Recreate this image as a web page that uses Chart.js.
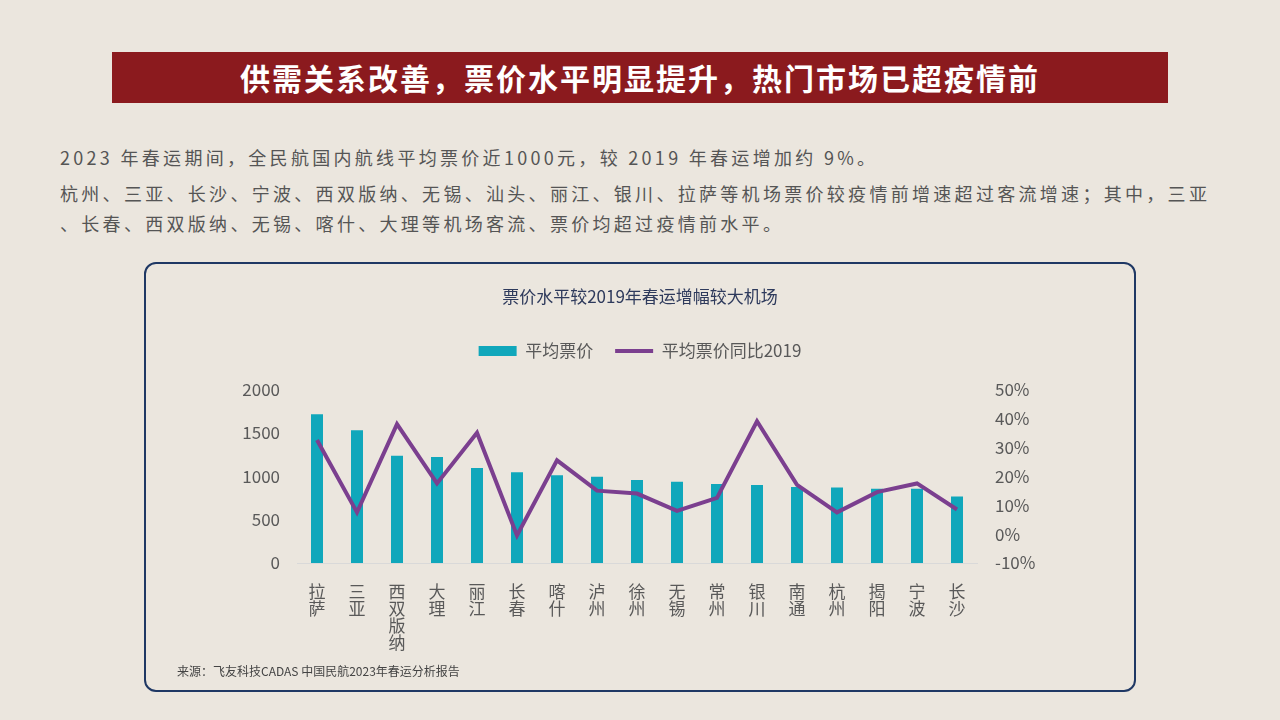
<!DOCTYPE html>
<html>
<head>
<meta charset="utf-8">
<script src="https://cdn.jsdelivr.net/npm/chart.js@4.4.0/dist/chart.umd.min.js"></script>
<style>
  body { margin: 0; width: 1280px; height: 720px; background: #ebe6de; font-family: "Noto Sans CJK SC", sans-serif; position: relative; overflow: hidden; }
  .banner { position: absolute; left: 112px; top: 52px; width: 1056px; height: 51px; background: #8b1a1e; color: #fff; font-size: 30px; font-weight: bold; text-align: center; line-height: 51px; letter-spacing: 2px; }
  .txt { position: absolute; left: 60px; color: #555; font-size: 18px; letter-spacing: 3.3px; white-space: nowrap; line-height: 30px; }
  .box { position: absolute; left: 144px; top: 262px; width: 988px; height: 426px; border: 2px solid #1f3864; border-radius: 12px; }
  .wrap { position: absolute; left: 144px; top: 262px; width: 992px; height: 401px; }
  .src { position: absolute; left: 177px; top: 662px; font-size: 12px; color: #444; }
</style>
</head>
<body>
<div class="banner">供需关系改善，票价水平明显提升，热门市场已超疫情前</div>
<div class="txt" style="top:142px">2023 年春运期间，全民航国内航线平均票价近1000元，较 2019 年春运增加约 9%。</div>
<div class="txt" style="top:178px">杭州、三亚、长沙、宁波、西双版纳、无锡、汕头、丽江、银川、拉萨等机场票价较疫情前增速超过客流增速；其中，三亚</div>
<div class="txt" style="top:208px">、长春、西双版纳、无锡、喀什、大理等机场客流、票价均超过疫情前水平。</div>
<div class="box"></div>
<div class="wrap"><canvas id="chart"></canvas></div>
<div class="src">来源：飞友科技CADAS 中国民航2023年春运分析报告</div>
<script>
// 机场
const airports = ['拉萨', '三亚', '西双版纳', '大理', '丽江', '长春', '喀什', '泸州', '徐州', '无锡', '常州', '银川', '南通', '杭州', '揭阳', '宁波', '长沙'];
// 平均票价（元）
const avgPrice = [1715, 1530, 1235, 1222, 1095, 1045, 1010, 995, 955, 935, 910, 900, 875, 870, 855, 855, 765];
// 平均票价同比2019（%）
const yoy2019 = [32.5, 7.5, 38, 17.5, 35, -0.5, 25.5, 15, 14, 8, 12.5, 39, 17, 7.5, 14.5, 17.5, 8.5];

const gray = '#595959';
const font = { family: '"Noto Sans CJK SC", sans-serif', size: 17 };

// 图例下方留出空白
const legendGap = {
  id: 'legendGap',
  beforeInit(chart) {
    const fit = chart.legend.fit;
    chart.legend.fit = function () {
      fit.bind(chart.legend)();
      this.height += 20;
    };
  }
};

new Chart(document.getElementById('chart'), {
  type: 'bar',
  data: {
    labels: airports.map(a => a.split('')),
    datasets: [
      {
        type: 'line',
        label: '平均票价同比2019',
        data: yoy2019,
        yAxisID: 'y1',
        borderColor: '#7b3f8f',
        backgroundColor: '#7b3f8f',
        borderWidth: 4,
        pointRadius: 0,
        tension: 0,
        order: 0
      },
      {
        label: '平均票价',
        data: avgPrice,
        yAxisID: 'y',
        backgroundColor: '#10a7bb',
        barPercentage: 0.3,
        categoryPercentage: 1,
        order: 1
      }
    ]
  },
  plugins: [legendGap],
  options: {
    responsive: true,
    maintainAspectRatio: false,
    animation: false,
    plugins: {
      title: {
        display: true,
        text: '票价水平较2019年春运增幅较大机场',
        color: '#2e3a5c',
        font: { ...font, weight: 'normal' },
        padding: { top: 24, bottom: 14 }
      },
      legend: {
        reverse: true,
        labels: {
          color: gray,
          font: font,
          usePointStyle: true,
          pointStyleWidth: 38,
          boxHeight: 10,
          padding: 22,
          generateLabels: chart => chart.data.datasets.map((ds, i) => ({
            text: ds.label,
            fillStyle: ds.type === 'line' ? ds.borderColor : ds.backgroundColor,
            strokeStyle: ds.type === 'line' ? ds.borderColor : ds.backgroundColor,
            lineWidth: ds.type === 'line' ? 4 : 0,
            pointStyle: ds.type === 'line' ? 'line' : 'rect',
            fontColor: gray,
            datasetIndex: i
          }))
        }
      },
      tooltip: { enabled: false }
    },
    scales: {
      x: {
        grid: { display: false },
        border: { color: '#d9d9d9' },
        ticks: { color: gray, font: { ...font, lineHeight: 1.0 }, maxRotation: 0, autoSkip: false, padding: 12 }
      },
      y: {
        position: 'left',
        min: 0,
        max: 2000,
        grid: { display: false, drawTicks: false },
        border: { display: false },
        ticks: { stepSize: 500, color: gray, font: font, padding: 17, callback: v => String(v) },
        afterFit: s => { s.width = 153; }
      },
      y1: {
        position: 'right',
        min: -10,
        max: 50,
        grid: { display: false, drawTicks: false },
        border: { display: false },
        ticks: { stepSize: 10, color: gray, font: font, padding: 18, callback: v => v + '%' },
        afterFit: s => { s.width = 159; }
      }
    }
  }
});
</script>
</body>
</html>
